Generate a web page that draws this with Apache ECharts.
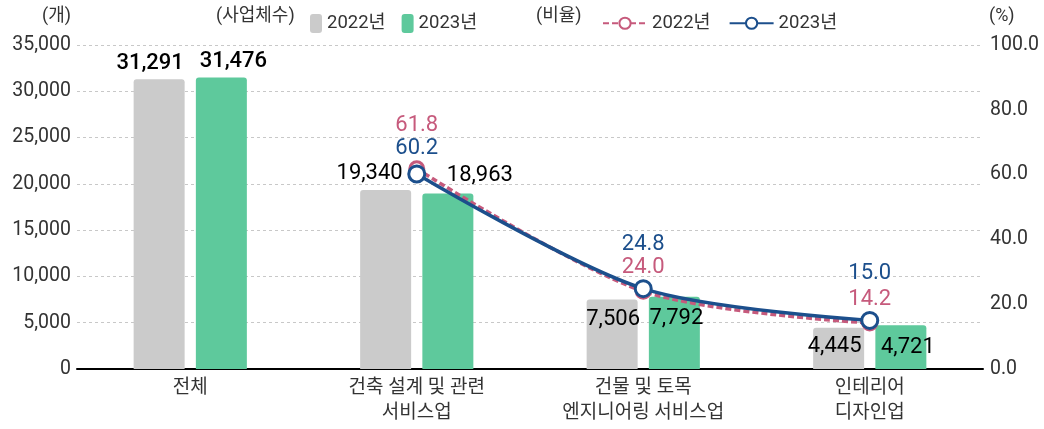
<!DOCTYPE html>
<html>
<head>
<meta charset="utf-8">
<script src="https://cdn.jsdelivr.net/npm/echarts@6/dist/echarts.min.js"></script>
<style>
  html, body { margin: 0; padding: 0; background: #fff; }
  #main { width: 1044px; height: 429px; }
</style>
</head>
<body>
<div id="main"></div>
<script>
const categories = ['전체', '건축 설계 및 관련\n서비스업', '건물 및 토목\n엔지니어링 서비스업', '인테리어\n디자인업']
const count2022 = [31291, 19340, 7506, 4445]
const count2023 = [31476, 18963, 7792, 4721]
const rate2022 = [null, 61.8, 24.0, 14.2]
const rate2023 = [null, 60.2, 24.8, 15.0]

const FONT = "Roboto, 'Noto Sans CJK KR', sans-serif"
const GRAY = '#cbcbcb'
const GREEN = '#5ec99c'
const PINK = '#c65a7c'
const BLUE = '#1c4f8c'

// label tweaks per bar (position / offset)
const barLabel2022 = [
  { position: 'top', offset: [-9, 1], fontWeight: 500 },
  { position: 'top', offset: [-16, 1] },
  { position: 'insideTop', offset: [1, 3] },
  { position: 'insideTop', offset: [-4, 2] },
]
const barLabel2023 = [
  { position: 'top', offset: [12, 1], fontWeight: 500 },
  { position: 'top', offset: [32, -1] },
  { position: 'insideTop', offset: [2, 5] },
  { position: 'insideTop', offset: [7, 5] },
]
const rateOffset2022 = [0, -19, 1, 1]
const rateOffset2023 = [0, 0, -19, -21]

const fmt = (v) => v.toLocaleString('en-US')

const chart = echarts.init(document.getElementById('main'))
chart.setOption({
  animation: false,
  textStyle: { fontFamily: FONT },
  grid: { left: 77, right: 61, top: 45, bottom: 60 },
  legend: [
    {
      left: 305, top: 9, itemGap: 16, itemWidth: 12, itemHeight: 19,
      data: ['사업체수 2022년', '사업체수 2023년'],
      formatter: (n) => n.split(' ')[1],
      textStyle: { fontSize: 18.5, color: '#333', fontFamily: FONT },
    },
    {
      left: 597, top: 9, itemGap: 18, itemWidth: 44, itemHeight: 14,
      data: ['비율 2022년', '비율 2023년'],
      formatter: (n) => n.split(' ')[1],
      textStyle: { fontSize: 18.5, color: '#333', fontFamily: FONT },
    },
  ],
  graphic: [
    { type: 'text', left: 216, top: 8, style: { text: '(사업체수)', fontSize: 18, fill: '#333', fontFamily: FONT } },
    { type: 'text', left: 536, top: 8, style: { text: '(비율)', fontSize: 18, fill: '#333', fontFamily: FONT } },
    { type: 'text', left: 42, top: 8, style: { text: '(개)', fontSize: 18, fill: '#333', fontFamily: FONT } },
    { type: 'text', left: 989, top: 8, style: { text: '(%)', fontSize: 18, fill: '#333', fontFamily: FONT } },
  ],
  xAxis: {
    type: 'category',
    data: categories,
    axisLine: { lineStyle: { color: '#000', width: 2 } },
    axisTick: { show: false },
    axisLabel: { fontSize: 19, color: '#333', lineHeight: 25, margin: 7 },
  },
  yAxis: [
    {
      type: 'value', min: 0, max: 35000, interval: 5000,
      axisLine: { show: false },
      axisTick: { show: false },
      axisLabel: { fontSize: 19.5, color: '#333', margin: 6, formatter: (v) => fmt(v) },
      splitLine: { lineStyle: { color: '#c8c8c8', type: [3, 3] } },
    },
    {
      type: 'value', min: 0, max: 100, interval: 20,
      axisLine: { show: false },
      axisTick: { show: false },
      axisLabel: { fontSize: 19.5, color: '#333', margin: 7, formatter: (v) => v.toFixed(1) },
      splitLine: { show: false },
    },
  ],
  series: [
    {
      name: '사업체수 2022년', type: 'bar', barWidth: 51, barGap: '22%',
      itemStyle: { color: GRAY, borderRadius: [3, 3, 0, 0] },
      label: { show: true, fontSize: 22, color: '#000', distance: 6, formatter: (p) => fmt(p.value) },
      data: count2022.map((v, i) => ({ value: v, label: barLabel2022[i] })),
    },
    {
      name: '사업체수 2023년', type: 'bar', barWidth: 51,
      itemStyle: { color: GREEN, borderRadius: [3, 3, 0, 0] },
      label: { show: true, fontSize: 22, color: '#000', distance: 6, formatter: (p) => fmt(p.value) },
      data: count2023.map((v, i) => ({ value: v, label: barLabel2023[i] })),
    },
    {
      name: '비율 2022년', type: 'line', yAxisIndex: 1, smooth: 0.3, z: 5,
      symbol: 'circle', symbolSize: 14,
      lineStyle: { color: PINK, width: 3.5, type: [6, 3] },
      itemStyle: { color: '#fff', borderColor: PINK, borderWidth: 3 },
      label: { show: true, position: 'top', fontSize: 22, color: PINK, formatter: (p) => p.value.toFixed(1) },
      data: rate2022.map((v, i) => ({ value: v, label: { offset: [0, rateOffset2022[i]] } })),
    },
    {
      name: '비율 2023년', type: 'line', yAxisIndex: 1, smooth: 0.3, z: 6,
      symbol: 'circle', symbolSize: 16,
      lineStyle: { color: BLUE, width: 3.5 },
      itemStyle: { color: '#fff', borderColor: BLUE, borderWidth: 3 },
      label: { show: true, position: 'top', fontSize: 22, color: BLUE, formatter: (p) => p.value.toFixed(1) },
      data: rate2023.map((v, i) => ({ value: v, label: { offset: [0, rateOffset2023[i]] } })),
    },
  ],
})
</script>
</body>
</html>
